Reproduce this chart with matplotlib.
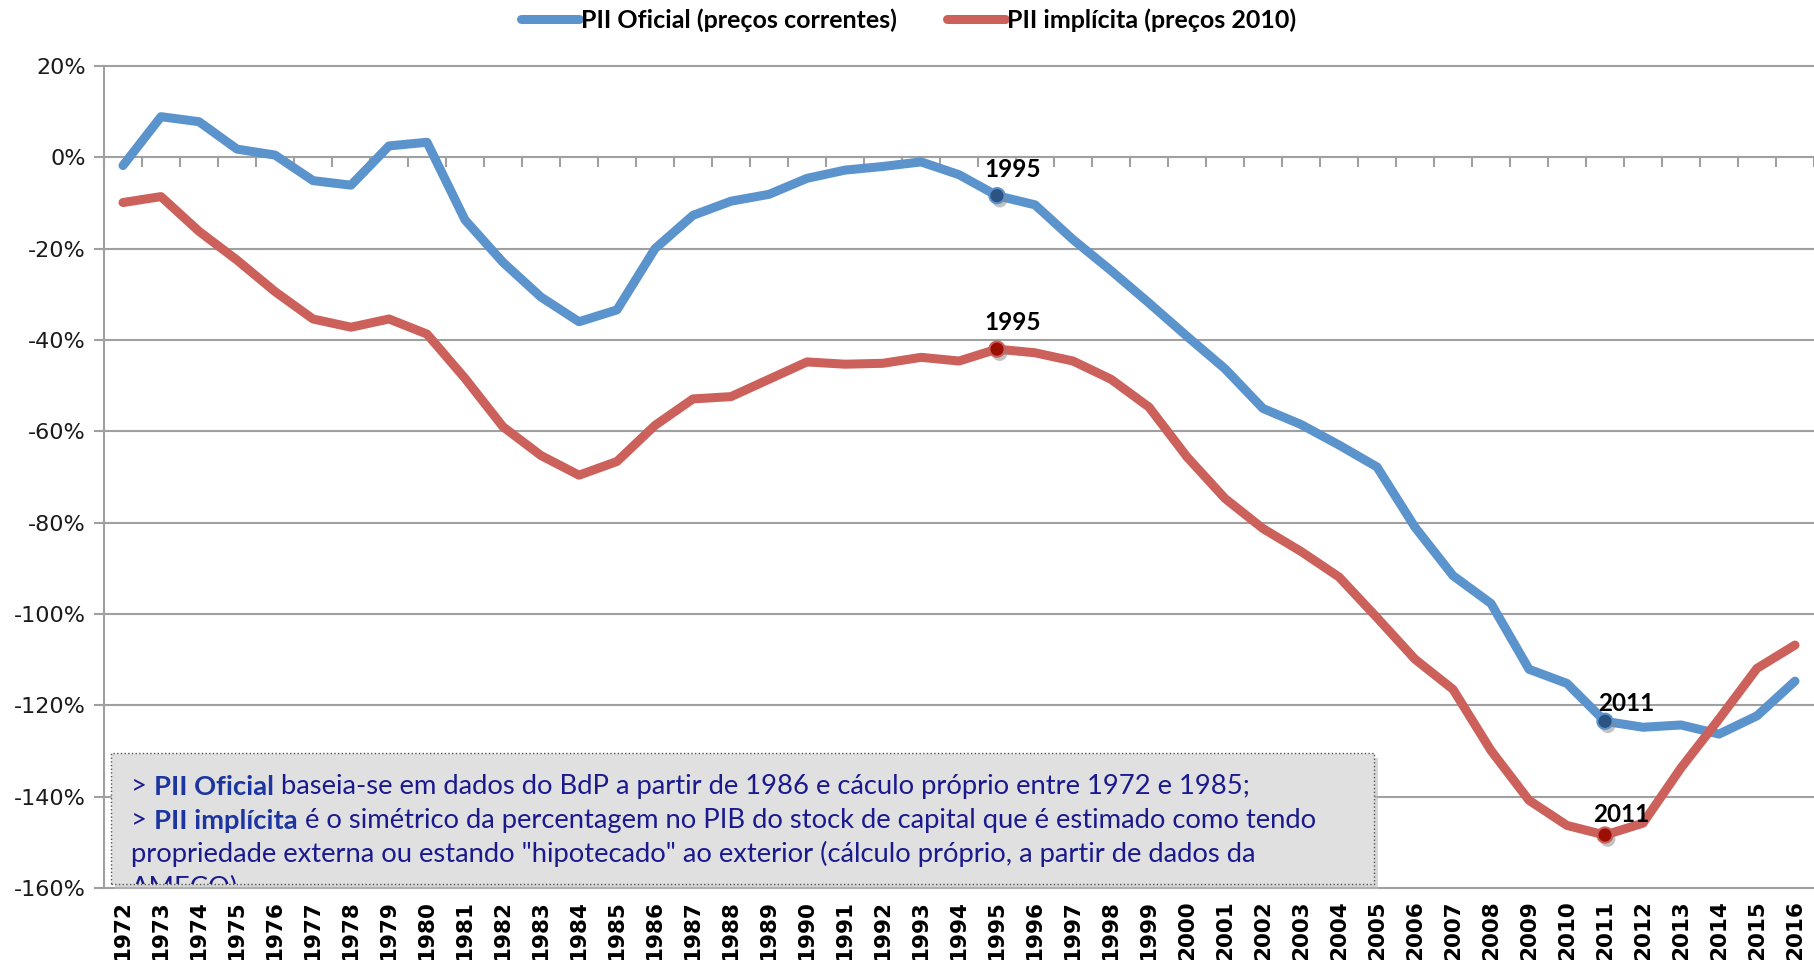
import numpy as np
import matplotlib
matplotlib.use("Agg")
import matplotlib.pyplot as plt
from matplotlib.patches import Rectangle
from matplotlib.text import Annotation
import matplotlib.patheffects as pe

# dados (em % do PIB)
anos = list(range(1972, 2017))
pii_oficial = [-1.8, 8.9, 7.8, 1.8, 0.5, -5.1, -6.1, 2.5, 3.3, -13.7,
               -23.0, -30.6, -36.0, -33.4, -20.0, -12.7, -9.6, -8.1, -4.6, -2.8,
               -2.0, -1.0, -3.8, -8.4, -10.4, -18.0, -24.8, -31.9, -39.2, -46.3,
               -55.0, -58.5, -63.0, -67.8, -81.0, -91.6, -97.7, -112.1, -115.2, -123.5,
               -124.8, -124.3, -126.3, -122.3, -114.7]
pii_implicita = [-9.9, -8.6, -16.2, -22.5, -29.4, -35.4, -37.2, -35.4, -38.7, -48.4,
                 -59.0, -65.3, -69.6, -66.6, -58.7, -52.9, -52.4, -48.6, -44.8, -45.3,
                 -45.1, -43.8, -44.6, -42.0, -42.8, -44.6, -48.6, -54.7, -65.6, -74.7,
                 -81.3, -86.3, -91.9, -100.8, -109.9, -116.5, -129.9, -140.8, -146.3, -148.4,
                 -145.8, -133.7, -123.0, -111.9, -106.8]
anos_marcados = [1995, 2011]

azul = "#5b93cc"
vermelho = "#cc605a"
cinza = "#a0a0a0"

fig = plt.figure(figsize=(18.14, 9.6), dpi=100)
ax = fig.add_axes([104 / 1814, 0.075, 1 - 104 / 1814, 0.85625])

x = np.arange(len(anos))
of = np.array(pii_oficial) / 100
im = np.array(pii_implicita) / 100

ax.set_xlim(-0.5, len(anos) - 0.5)
ax.set_ylim(-1.6, 0.2)

yt = np.arange(-1.6, 0.21, 0.2)
for v in yt:
    ax.axhline(v, color=cinza, lw=1.5, zorder=1, clip_on=False)

l1, = ax.plot(x, of, color=azul, lw=6.5, solid_capstyle="round",
              solid_joinstyle="round", zorder=3, label="PII Oficial (preços correntes)")
l2, = ax.plot(x, im, color=vermelho, lw=6.5, solid_capstyle="round",
              solid_joinstyle="round", zorder=3, label="PII implícita (preços 2010)")

sombra = [pe.SimplePatchShadow(offset=(2, -3), shadow_rgbFace="#888888", alpha=0.5),
          pe.Normal()]
offs = {(0, 1995): (11, 19), (1, 1995): (11, 19), (0, 2011): (15, 13), (1, 2011): (12, 15)}
for s, (serie, face, edge) in enumerate([(of, "#2c5381", azul), (im, "#9c0f05", vermelho)]):
    for a in anos_marcados:
        i = anos.index(a)
        ax.plot(x[i], serie[i], "o", ms=11, mfc=face, mec=edge, mew=1.5,
                zorder=4, path_effects=sombra)
        ax.annotate(str(a), (x[i], serie[i]), xytext=offs[(s, a)],
                    textcoords="offset points", ha="center", va="center",
                    fontsize=17.5, fontweight="bold", family="Lato", zorder=5)

# eixo y
ax.set_yticks(yt)
ax.set_yticklabels([f"{int(round(v * 100))}%" for v in yt], fontsize=16, color="#1a1a1a")
ax.tick_params(axis="y", direction="out", length=7, width=1.5, color=cinza, pad=6)
for k in ["top", "right", "bottom"]:
    ax.spines[k].set_visible(False)
ax.spines["left"].set_color(cinza)
ax.spines["left"].set_linewidth(1.5)

# anos em baixo
ax.set_xticks(x)
ax.set_xticklabels([str(a) for a in anos], rotation=90, fontsize=15.5,
                   fontweight="bold")
ax.tick_params(axis="x", length=0, pad=9)

# eixo das categorias cruza no 0%
y0 = (0 - ax.get_ylim()[0]) / (ax.get_ylim()[1] - ax.get_ylim()[0])
sec = ax.secondary_xaxis(y0)
sec.set_xticks(np.arange(len(anos) + 1) - 0.5)
sec.set_xticklabels([])
sec.tick_params(direction="in", length=7, width=1.5, color=cinza)
sec.spines["bottom"].set_color(cinza)
sec.spines["bottom"].set_linewidth(1.5)
sec.spines["top"].set_visible(False)

fig.legend(handles=[l1, l2], loc="center", bbox_to_anchor=(0.501, 1 - 20 / 960),
           ncol=2, frameon=False, handlelength=2.3, handletextpad=0.1,
           columnspacing=2.0, prop={"family": "Lato", "weight": "bold", "size": 18})

# caixa de texto
bx, by, bw, bh = 111 / 1814, 1 - 884 / 960, (1374 - 111) / 1814, (884 - 753) / 960
fig.patches.append(Rectangle((bx + 4 / 1814, by - 5 / 960), bw, bh,
                             transform=fig.transFigure, facecolor="#bbbbbb",
                             edgecolor="none", alpha=0.6, zorder=5))
caixa = Rectangle((bx, by), bw, bh, transform=fig.transFigure, facecolor="#e0e0e0",
                  edgecolor="#555555", lw=1, ls=":", zorder=6)
fig.patches.append(caixa)

cor_txt = "#1a1a8e"
cor_neg = "#1d35a0"
tam = 19.7
tx = 131 / 1814
linhas = [
    [("> ", "normal"), ("PII Oficial", "bold"),
     (" baseia-se em dados do BdP a partir de 1986 e cáculo próprio entre 1972 e 1985;", "normal")],
    [("> ", "normal"), ("PII implícita", "bold"),
     (" é o simétrico da percentagem no PIB do stock de capital que é estimado como tendo", "normal")],
    [("propriedade externa ou estando \"hipotecado\" ao exterior (cálculo próprio, a partir de dados da", "normal")],
    [("AMECO)", "normal")],
]
for n, linha in enumerate(linhas):
    ty = 1 - (794 + 34 * n) / 960
    prev = None
    for txt, w in linha:
        cor = cor_neg if w == "bold" else cor_txt
        if prev is None:
            t = fig.text(tx, ty, txt, fontsize=tam, family="Lato", fontweight=w,
                         color=cor, va="baseline", ha="left", zorder=7)
        else:
            t = Annotation(txt, xy=(1, 0), xycoords=prev, va="bottom", ha="left",
                           fontsize=tam, family="Lato", fontweight=w, color=cor,
                           annotation_clip=False, zorder=7)
            fig.add_artist(t)
        t.set_clip_path(caixa)
        prev = t

fig.savefig("out.png", dpi=100)
